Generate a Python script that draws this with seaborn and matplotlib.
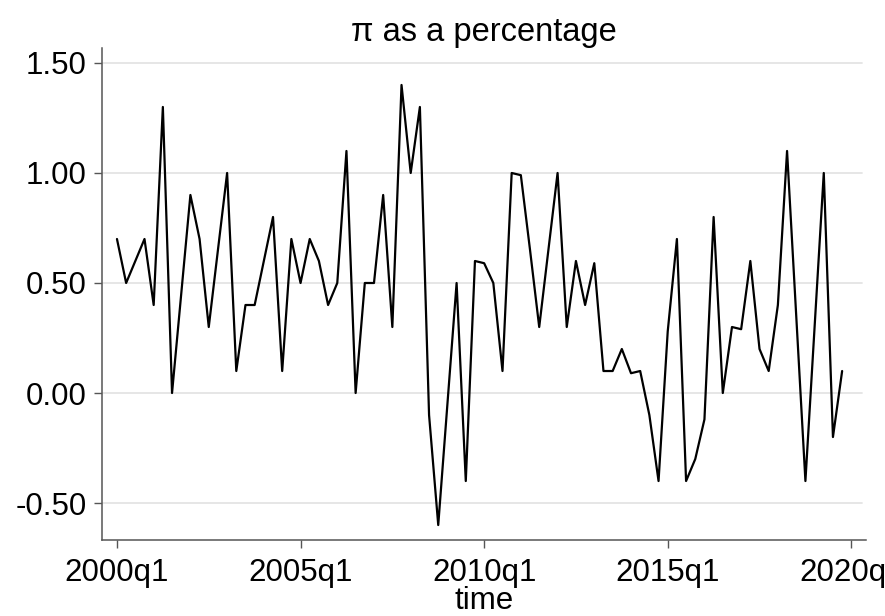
import numpy as np
import pandas as pd
import matplotlib
matplotlib.use("Agg")
import matplotlib.pyplot as plt
import seaborn as sns

# Quarterly inflation, 2000q1 - 2019q4
pi_pct = [
    0.70, 0.50, 0.60, 0.70, 0.40, 1.30, 0.00, 0.45, 0.90, 0.70,
    0.30, 0.65, 1.00, 0.10, 0.40, 0.40, 0.60, 0.80, 0.10, 0.70,
    0.50, 0.70, 0.60, 0.40, 0.50, 1.10, 0.00, 0.50, 0.50, 0.90,
    0.30, 1.40, 1.00, 1.30, -0.10, -0.60, -0.05, 0.50, -0.40, 0.60,
    0.59, 0.50, 0.10, 1.00, 0.99, 0.65, 0.30, 0.65, 1.00, 0.30,
    0.60, 0.40, 0.59, 0.10, 0.10, 0.20, 0.09, 0.10, -0.10, -0.40,
    0.28, 0.70, -0.40, -0.30, -0.12, 0.80, 0.00, 0.30, 0.29, 0.60,
    0.20, 0.10, 0.40, 1.10, 0.35, -0.40, 0.30, 1.00, -0.20, 0.10,
]
first_year = 2000
tick_years = [2000, 2005, 2010, 2015, 2020]
tick_labels = ["2000q1", "2005q1", "2010q1", "2015q1", "2020q1"]
y_ticks = [-0.5, 0.0, 0.5, 1.0, 1.5]

df = pd.DataFrame({
    "t": np.arange(len(pi_pct)),  # quarters since 2000q1
    "pi": pi_pct,
})

sns.set_theme(style="white")
plt.rcParams["font.family"] = ["Liberation Sans", "DejaVu Sans"]

W, H = 885, 616
fig = plt.figure(figsize=(W / 100, H / 100), dpi=100)
ax = fig.add_axes([102 / W, 1 - 540 / H, (866 - 102) / W, (540 - 48) / H])

sns.lineplot(data=df, x="t", y="pi", ax=ax, color="black", linewidth=1.6,
             zorder=3)

ax.set_xlim(-1.63, 81.6)
ax.set_ylim(-0.668, 1.568)

xt = [(y - first_year) * 4 for y in tick_years]
ax.set_xticks(xt)
ax.set_xticklabels(tick_labels)
ax.set_yticks(y_ticks)
ax.set_yticklabels([f"{v:.2f}" for v in y_ticks])

for v in y_ticks:
    ax.axhline(v, xmax=0.995, color="#e4e4e4", linewidth=1.3, zorder=1)
ax.grid(False)

for side in ["top", "right"]:
    ax.spines[side].set_visible(False)
for side in ["left", "bottom"]:
    ax.spines[side].set_color("#555555")
    ax.spines[side].set_linewidth(1.1)

ax.tick_params(axis="both", which="major", direction="out", length=5.8,
               width=1.0, color="#555555", labelsize=22.5, labelcolor="black",
               bottom=True, left=True)
ax.tick_params(axis="y", pad=5)
ax.tick_params(axis="x", pad=7)

ax.set_xlabel("time", fontsize=22.5, labelpad=-1, color="black")
ax.set_ylabel("")
ax.set_title("π as a percentage", fontsize=23.5, pad=5, color="black")

fig.savefig("out.png", dpi=100, facecolor="white")
